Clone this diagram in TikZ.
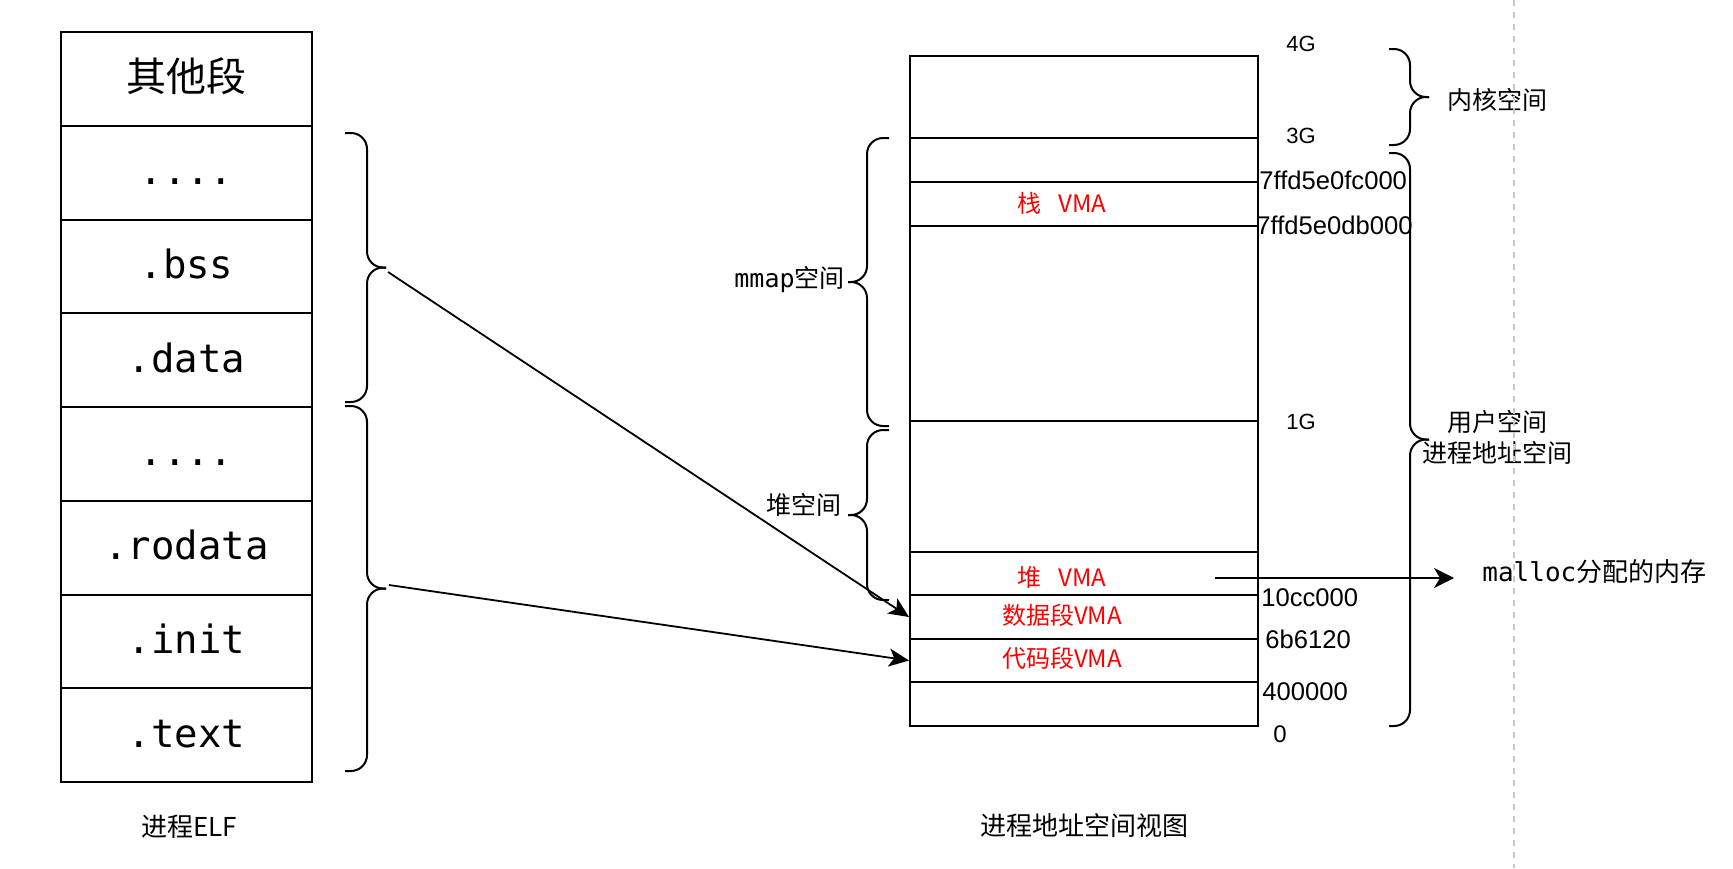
\documentclass[tikz,border=0pt]{standalone}
\usepackage{fontspec}
\setmainfont{Noto Sans CJK SC}
\newfontfamily\cjkf{Noto Sans CJK SC}
\newfontfamily\monof{DejaVu Sans Mono}
\newfontfamily\arialf{Liberation Sans}
\usetikzlibrary{arrows.meta}
\newcommand\curlyb[6]{%
  \draw[brc] (#1,#4) -| (#2,#6) -- (#3,#6);
  \draw[brc] (#3,#6) -- (#2,#6) |- (#1,#5);}
\begin{document}
\begin{tikzpicture}[x=0.5pt,y=-0.5pt,
  elfrow/.style={draw, line width=1pt, minimum width=125.5pt, minimum height=46.875pt,
    inner sep=0pt, text height=14pt, text depth=2pt, font=\monof\fontsize{19.5}{19.5}\selectfont},
  vrow/.style={draw, line width=1pt, minimum width=174pt, inner sep=0pt},
  vlab/.style={text=red, inner sep=0pt, font=\cjkf\fontsize{12}{12}\selectfont},
  addr/.style={inner sep=0pt, anchor=west, font=\arialf\fontsize{12.8}{12.8}\selectfont},
  gig/.style={inner sep=0pt, font=\arialf\fontsize{11}{11}\selectfont},
  lab/.style={inner sep=0pt, font=\cjkf\fontsize{12.5}{12.5}\selectfont},
  brc/.style={line width=1pt, rounded corners=8pt},
  arr/.style={line width=0.9pt, -{Stealth[length=10pt,width=9pt,inset=2.5pt]}},
]
\useasboundingbox (0,0) rectangle (1733,868);

% ELF stack
\node[elfrow, text height=16pt, text depth=3pt, font=\cjkf\fontsize{20}{20}\selectfont] (e1) at (186.5,78.875) {其他段};
\node[elfrow] (e2) at (186.5,172.625) {....};
\node[elfrow] (e3) at (186.5,266.375) {.bss};
\node[elfrow] (e4) at (186.5,360.125) {.data};
\node[elfrow] (e5) at (186.5,453.875) {....};
\node[elfrow] (e6) at (186.5,547.625) {.rodata};
\node[elfrow] (e7) at (186.5,641.375) {.init};
\node[elfrow] (e8) at (186.5,735.125) {.text};
\node[lab, font=\cjkf\fontsize{13}{13}\selectfont] (elfcap) at (189,827) {进程ELF};

% address space rows
\node[vrow, minimum height=41pt] (r1) at (1084,97) {};
\node[vrow, minimum height=22pt] (r2) at (1084,160) {};
\node[vrow, minimum height=22pt] (r3) at (1084,204) {};
\node[vrow, minimum height=97.5pt] (r4) at (1084,323.5) {};
\node[vrow, minimum height=65.5pt] (r5) at (1084,486.5) {};
\node[vrow, minimum height=21.5pt] (r6) at (1084,573.5) {};
\node[vrow, minimum height=22pt] (r7) at (1084,617) {};
\node[vrow, minimum height=21.5pt] (r8) at (1084,660.5) {};
\node[vrow, minimum height=22pt] (r9) at (1084,704) {};

\node[vlab] (l3) at (1062,203) {栈\hspace{0.7em}VMA};
\node[vlab] (l6) at (1062,577) {堆\hspace{0.7em}VMA};
\node[vlab] (l7) at (1062,615) {数据段VMA};
\node[vlab] (l8) at (1062,658) {代码段VMA};

\node[lab, font=\cjkf\fontsize{13}{13}\selectfont] (vcap) at (1084,826) {进程地址空间视图};

% addresses
\node[gig] (g4) at (1301,44) {4G};
\node[gig] (g3) at (1301,136) {3G};
\node[gig] (g1) at (1301,422) {1G};
\node[addr] (a1) at (1259,180) {7ffd5e0fc000};
\node[addr] (a2) at (1256,225) {7ffd5e0db000};
\node[addr] (a3) at (1261,598) {10cc000};
\node[addr] (a4) at (1265,639) {6b6120};
\node[addr] (a5) at (1262,692) {400000};
\node[gig, font=\arialf\fontsize{12}{12}\selectfont] (a0) at (1280,734) {0};

% braces
\curlyb{345}{367}{386}{133}{402}{267.5}
\curlyb{345}{367}{386}{406}{771}{588.5}
\curlyb{889}{867}{848}{138}{426}{282}
\curlyb{889}{867}{848}{430}{600}{515}
\curlyb{1389}{1410}{1429}{49}{145}{97}
\curlyb{1389}{1410}{1429}{153}{726}{439.5}

\node[lab, anchor=east] (mmap) at (845,280) {{\monof mmap}空间};
\node[lab, anchor=east] (heap) at (842,505) {堆空间};
\node[lab] (kern) at (1497,99.5) {内核空间};
\node[lab] (user) at (1497,422) {用户空间};
\node[lab] (proc) at (1497,453) {进程地址空间};
\node[lab, anchor=west, font=\cjkf\fontsize{13}{13}\selectfont] (malloc) at (1482,572) {{\monof malloc}分配的内存};

% arrows
\coordinate (b1) at (388,272);
\coordinate (b2) at (389,585);
\draw[arr] (b1) -- (r7.west);
\draw[arr] (b2) -- (r8.west);
\coordinate (mstart) at (1215,578);
\coordinate (mend) at (1454,578);
\draw[arr, -{Stealth[length=10pt,width=10pt,inset=3pt]}] (mstart) -- (mend);

% dashed separator
\coordinate (d1) at (1514,0);
\coordinate (d2) at (1514,868);
\draw[gray!45, line width=0.6pt, dash pattern=on 3pt off 3pt] (d1) -- (d2);
\end{tikzpicture}
\end{document}
